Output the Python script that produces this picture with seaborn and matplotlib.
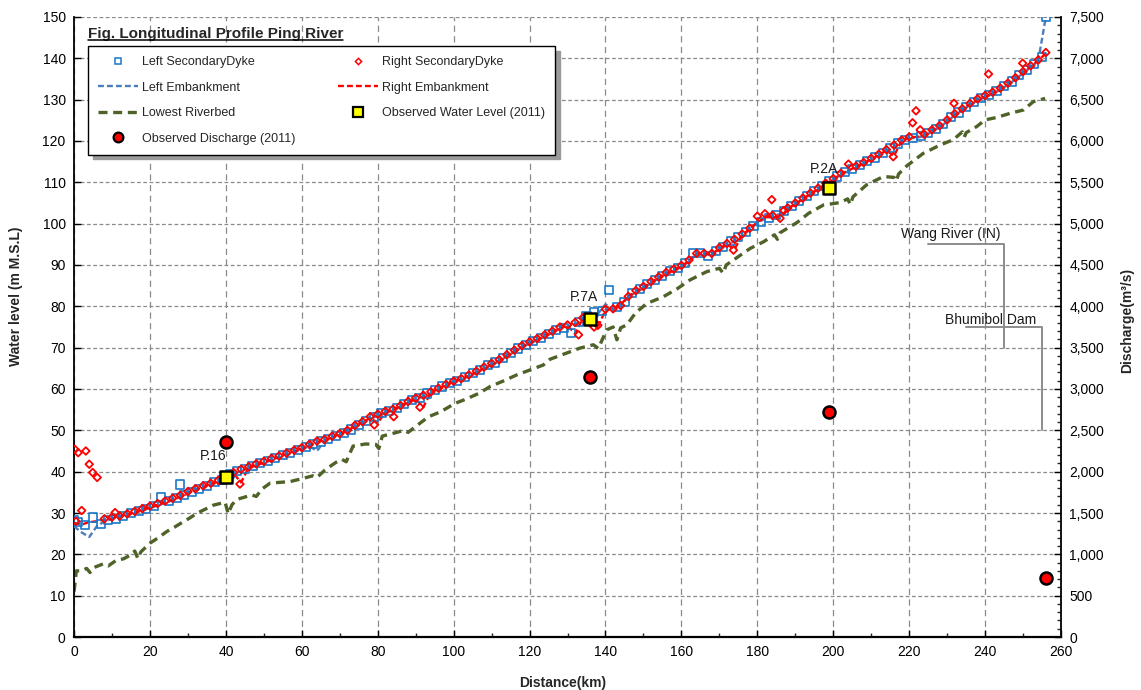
import matplotlib
matplotlib.use("Agg")
import matplotlib.pyplot as plt
import matplotlib.transforms as mtransforms
from matplotlib.lines import Line2D
from matplotlib.ticker import MultipleLocator, FuncFormatter
import seaborn as sns

# ---------------- data ----------------
# stations (km) of the embankment crest profiles
km_emb = list(range(0, 258, 2))

right_emb = [27.6, 27.2, 27.8, 28.0, 28.4, 28.7, 29.1, 29.6, 30.2, 30.8,
             31.4, 32.0, 32.6, 33.3, 34.1, 34.9, 35.6, 36.3, 37.0, 37.7,
             38.6, 39.6, 37.4, 41.0, 41.7, 42.3, 42.9, 43.6, 44.3, 45.0,
             45.6, 46.4, 47.2, 47.6, 48.3, 49.2, 49.9, 51.0, 51.9, 53.0,
             51.8, 54.4, 55.0, 55.9, 56.9, 57.6, 55.6, 59.2, 60.1, 61.0,
             61.8, 62.4, 63.2, 64.1, 65.1, 66.0, 66.9, 68.1, 69.2, 70.3,
             71.2, 72.0, 72.9, 73.8, 74.8, 75.3, 73.4, 77.0, 76.3, 75.0,
             79.1, 79.4, 80.4, 82.4, 83.6, 84.6, 85.8, 86.9, 88.0, 88.8,
             89.7, 91.0, 92.8, 92.6, 92.6, 94.0, 95.0, 93.8, 97.3, 98.7,
             100.4, 101.4, 101.9, 101.4, 103.6, 104.8, 106.0, 107.2, 108.4, 109.6,
             110.7, 112.0, 112.9, 113.7, 114.6, 115.6, 116.6, 117.7, 116.4, 120.0,
             120.8, 121.0, 121.4, 122.5, 123.5, 124.9, 126.4, 127.6, 128.9, 130.0,
             130.8, 131.6, 132.6, 133.8, 135.1, 136.6, 138.0, 139.4, 141.2]

left_emb = [26.8, 25.3, 24.2, 26.8, 28.0, 28.5, 28.9, 29.5, 30.0, 30.6,
            31.2, 31.8, 32.4, 33.1, 33.9, 34.7, 35.4, 36.1, 36.8, 37.5,
            38.5, 39.4, 40.2, 40.8, 41.5, 42.1, 42.7, 43.4, 44.1, 44.8,
            45.4, 46.2, 45.0, 47.4, 48.1, 48.9, 49.7, 50.8, 51.7, 52.8,
            53.5, 54.2, 54.8, 55.7, 56.7, 57.4, 58.3, 59.0, 59.9, 60.8,
            61.6, 62.2, 63.0, 63.9, 64.9, 65.8, 66.7, 67.9, 69.0, 70.1,
            71.0, 71.8, 72.7, 73.6, 74.6, 75.1, 75.7, 76.8, 77.3, 78.2,
            80.5, 79.2, 80.2, 82.2, 83.4, 84.4, 85.6, 86.7, 87.8, 88.6,
            89.5, 90.8, 92.6, 92.4, 92.4, 93.8, 94.8, 95.8, 97.1, 98.5,
            100.2, 101.2, 101.7, 102.4, 103.4, 104.6, 105.8, 107.0, 108.2, 109.4,
            110.5, 111.8, 112.7, 113.5, 114.4, 115.4, 116.4, 117.5, 118.6, 119.8,
            120.6, 120.8, 121.2, 122.3, 123.3, 124.7, 126.2, 127.4, 128.7, 129.8,
            130.6, 131.4, 132.4, 133.6, 134.9, 136.4, 137.8, 139.4, 150.0]

# (km, elevation) of left secondary dyke
left_dyke = [(0, 28.2), (1, 27.9), (3, 27.0), (5, 28.9), (7, 27.3), (9, 28.3), (11, 28.6),
             (13, 29.2), (15, 30.0), (17, 30.5), (19, 31.0), (21, 31.6), (23, 33.8), (25, 32.8),
             (27, 33.6), (28, 36.9), (29, 34.4), (31, 35.1), (33, 35.8), (35, 36.6), (37, 37.4),
             (39, 38.0), (41, 39.4), (43, 40.1), (45, 40.6), (47, 41.4), (49, 42.1), (51, 42.6),
             (53, 43.2), (55, 44.0), (57, 44.6), (59, 45.3), (61, 46.0), (63, 46.6), (65, 47.3),
             (67, 47.9), (69, 48.6), (71, 49.3), (73, 50.2), (75, 51.3), (77, 52.3), (79, 53.2),
             (81, 54.2), (83, 54.6), (85, 55.4), (87, 56.4), (89, 57.3), (91, 57.9), (93, 58.9),
             (95, 59.7), (97, 60.6), (99, 61.4), (101, 61.9), (103, 62.8), (105, 63.8), (107, 64.6),
             (109, 65.7), (111, 66.4), (113, 67.5), (115, 68.6), (117, 69.8), (119, 70.6), (121, 71.7),
             (123, 72.3), (125, 73.3), (127, 74.2), (129, 74.8), (131, 73.6), (133, 76.2), (135, 77.6),
             (137, 78.6), (139, 78.8), (141, 84.0), (143, 79.8), (145, 81.0), (147, 83.2), (149, 84.2),
             (151, 85.4), (153, 86.4), (155, 87.4), (157, 88.5), (159, 89.3), (161, 90.4), (163, 92.9),
             (165, 92.8), (167, 92.2), (169, 93.4), (171, 94.3), (173, 95.8), (175, 96.7), (177, 98.0),
             (179, 99.4), (181, 100.5), (183, 101.4), (185, 102.2), (187, 103.1), (189, 104.2),
             (191, 105.4), (193, 106.6), (195, 107.8), (197, 109.0), (199, 110.2), (201, 111.4),
             (203, 112.6), (205, 113.2), (207, 114.1), (209, 115.1), (211, 116.0), (213, 117.1),
             (215, 118.2), (217, 119.4), (219, 120.3), (221, 120.8), (223, 121.2), (225, 122.0),
             (227, 123.0), (229, 124.2), (231, 125.7), (233, 126.9), (235, 128.2), (237, 129.4),
             (239, 130.4), (241, 131.2), (243, 132.1), (245, 133.2), (247, 134.4), (249, 135.9),
             (251, 137.2), (253, 138.7), (255, 140.3), (256, 150.0)]

# (km, elevation) of right secondary dyke
right_dyke = [(0.2, 45.4), (0.5, 28.0), (1.1, 44.6), (2.0, 30.6), (3.1, 45.0), (4.0, 41.8),
              (4.9, 39.8), (6.1, 38.6), (8, 28.6), (10, 29.0), (10.8, 30.1), (12, 29.3),
              (14, 29.8), (16, 30.4), (18, 31.1), (20, 31.7), (22, 32.3), (24, 32.9), (26, 33.6),
              (28, 34.3), (30, 35.2), (32, 35.9), (34, 36.6), (36, 37.2), (38, 37.9), (40, 38.8),
              (42, 39.8), (43.7, 37.0), (44, 40.6), (46, 41.2), (48, 41.9), (50, 42.5), (52, 43.2),
              (54, 43.8), (56, 44.5), (58, 45.2), (60, 45.8), (62, 46.6), (64, 47.4), (66, 47.8),
              (68, 48.6), (70, 49.2), (72, 50.0), (74, 51.2), (76, 52.1), (78, 53.3), (79.1, 51.3),
              (80, 53.9), (82, 54.6), (84, 55.1), (84.2, 53.3), (86, 56.0), (88, 57.0), (90, 57.8),
              (91.1, 55.6), (92, 58.5), (94, 59.3), (96, 60.2), (98, 61.1), (100, 61.9), (102, 62.5),
              (104, 63.4), (106, 64.3), (108, 65.3), (110, 66.2), (112, 67.1), (114, 68.3),
              (116, 69.4), (118, 70.5), (120, 71.4), (122, 72.2), (124, 73.1), (126, 74.0),
              (128, 75.0), (130, 75.5), (132, 76.1), (132.9, 73.1), (134, 77.2), (136, 76.0),
              (137, 75.0), (138, 75.4), (140, 79.3), (142, 79.4), (144, 80.2), (146, 82.4),
              (148, 83.8), (150, 84.8), (152, 86.0), (154, 87.1), (156, 88.2), (158, 89.0),
              (160, 89.9), (162, 91.2), (164, 92.8), (166, 92.8), (168, 92.8), (170, 94.2),
              (172, 95.2), (173.7, 93.6), (174, 96.2), (176, 97.5), (178, 98.9), (180, 101.8),
              (182, 102.4), (183.8, 105.8), (184, 102.0), (186, 101.3), (187, 103.2), (188, 103.8),
              (190, 105.0), (192, 106.2), (194, 107.4), (196, 108.6), (198, 109.8), (200, 110.9),
              (202, 112.2), (204, 114.4), (206, 113.9), (208, 114.8), (210, 115.8), (212, 116.8),
              (214, 117.9), (215.8, 116.2), (216, 119.0), (218, 120.2), (220, 121.0), (220.9, 124.4),
              (221.8, 127.3), (222.9, 122.7), (224, 121.6), (226, 122.7), (228, 123.7), (230, 125.1),
              (231.8, 129.1), (232, 126.6), (234, 127.8), (236, 129.1), (238, 130.2), (240, 131.0),
              (240.9, 136.2), (242, 131.8), (244, 132.8), (246, 134.0), (248, 135.3), (249.9, 138.8),
              (250, 136.8), (252, 138.2), (254, 139.6), (256, 141.4)]

# (km, elevation) of lowest riverbed
riverbed = [(0, 11.0), (0.6, 16.0), (2.0, 16.0), (3.3, 16.6), (4.2, 15.6), (5.2, 16.8), (7.7, 17.7),
            (9.0, 17.2), (11.2, 18.6), (13.0, 18.9), (14.8, 19.8), (16.0, 20.8), (16.8, 19.0),
            (17.6, 20.6), (20.0, 22.7), (22.0, 23.9), (24.4, 25.5), (26.5, 26.6), (28.8, 27.9),
            (30.5, 28.8), (32.3, 29.9), (34.5, 30.9), (36.7, 31.9), (38.5, 32.3), (39.8, 32.6),
            (40.6, 29.8), (41.6, 32.0), (42.9, 33.3), (44.8, 33.8), (46.8, 34.4), (48.0, 34.0),
            (49.5, 35.8), (51.6, 37.2), (54.0, 37.4), (56.9, 37.6), (60.0, 38.3), (62.9, 39.0),
            (64.0, 38.6), (66.1, 40.4), (68.9, 42.2), (70.5, 43.0), (71.7, 42.4), (73.5, 46.2),
            (76.8, 46.7), (79.5, 46.6), (80.3, 45.6), (81.2, 48.6), (84.6, 49.4), (87.0, 50.0),
            (88.0, 49.5), (91.1, 51.7), (93.4, 53.3), (96.6, 54.5), (100.3, 56.5), (103.1, 57.5),
            (106.8, 59.0), (109.6, 60.6), (113.0, 61.9), (116.6, 63.4), (120.1, 64.6), (123.6, 65.8),
            (125.4, 67.2), (128.9, 68.4), (133.3, 69.9), (136.8, 70.7), (138.1, 69.8), (140.3, 74.3),
            (142.0, 75.0), (143.0, 71.9), (144.0, 74.8), (145.6, 75.5), (148.0, 78.5), (150.9, 80.7),
            (155.2, 82.3), (158.8, 84.2), (162.3, 86.4), (166.7, 88.4), (170.0, 89.2), (171.0, 88.0),
            (171.8, 90.0), (173.7, 91.2), (178.1, 94.0), (181.6, 95.6), (184.5, 97.3), (185.3, 96.2),
            (186.0, 97.8), (190.5, 100.3), (193.5, 102.5), (197.4, 104.5), (201.8, 105.1),
            (203.8, 106.0), (204.5, 104.6), (205.2, 106.5), (208.8, 109.4), (213.2, 111.4),
            (216.0, 111.2), (216.6, 110.3), (217.2, 112.0), (219.4, 114.0), (223.7, 117.0),
            (228.1, 119.0), (231.6, 120.3), (234.0, 122.2), (234.5, 120.9), (235.0, 122.0),
            (237.8, 123.5), (240.0, 125.1), (243.1, 125.7), (246.6, 126.7), (250.1, 127.5),
            (252.7, 129.5), (255.8, 130.3)]

# observed 2011 values
obs_km = [40, 136, 199]
obs_wl = [38.8, 76.9, 108.7]
obs_names = ["P.16", "P.7A", "P.2A"]
q_km = [40, 136, 199, 256]
q_val = [2360, 3140, 2725, 710]

x_ticks = list(range(0, 261, 20))
y_ticks = list(range(0, 151, 10))
q_ticks = list(range(0, 7501, 500))

# annotation leader lines (km, elevation)
wang_line = [(225, 95), (245, 95), (245, 70)]
bhumibol_line = [(235, 75), (255, 75), (255, 50)]

# ---------------- style ----------------
sns.set_theme(style="white")
plt.rcParams['font.family'] = ['Liberation Sans', 'DejaVu Sans']
plt.rcParams['axes.edgecolor'] = 'black'

C_LD = '#1a78c8'
C_LE = '#4a7ebb'
C_R = '#ff0000'
C_RB = '#4f6228'

fig = plt.figure(figsize=(11.41, 6.90), dpi=100, facecolor='white')
ax = fig.add_axes([0.0649, 0.0768, 0.865, 0.8986])
ax2 = ax.twinx()

ld_km, ld_wl = zip(*left_dyke)
rd_km, rd_wl = zip(*right_dyke)
rb_km, rb_wl = zip(*riverbed)

emb_ls = (0, (2.5, 1.3))
rb_ls = (0, (2.7, 1.7))

sns.lineplot(x=list(rb_km), y=list(rb_wl), ax=ax, color=C_RB, lw=2.4, linestyle=rb_ls,
             sort=False, estimator=None, legend=False, zorder=2)
sns.lineplot(x=km_emb, y=left_emb, ax=ax, color=C_LE, lw=1.7, linestyle=emb_ls,
             sort=False, estimator=None, legend=False, zorder=3)
sns.lineplot(x=km_emb, y=right_emb, ax=ax, color=C_R, lw=1.7, linestyle=emb_ls,
             sort=False, estimator=None, legend=False, zorder=3)
sns.scatterplot(x=list(ld_km), y=list(ld_wl), ax=ax, marker='s', s=34, facecolor='none',
                edgecolor=C_LD, linewidth=1.2, legend=False, zorder=4)
sns.scatterplot(x=list(rd_km), y=list(rd_wl), ax=ax, marker='D', s=15, facecolor='none',
                edgecolor=C_R, linewidth=1.3, legend=False, zorder=5)
sns.scatterplot(x=obs_km, y=obs_wl, ax=ax, marker='s', s=80, color='#ffff00',
                edgecolor='black', linewidth=1.8, legend=False, zorder=7)
sns.scatterplot(x=q_km, y=q_val, ax=ax2, marker='o', s=75, color='#ff0000',
                edgecolor='black', linewidth=1.8, legend=False, zorder=7)

# leader lines and labels
for pts in (wang_line, bhumibol_line):
    xs, ys = zip(*pts)
    ax.plot(xs, ys, color='#8c8c8c', lw=1.4, zorder=3)
ax.text(230.9, 96.5, "Wang River (IN)", fontsize=10, ha='center', va='baseline', color='#1a1a1a')
ax.text(241.4, 75.7, "Bhumibol Dam", fontsize=10, ha='center', va='baseline', color='#1a1a1a')
lab_pos = [(36.7, 42.8), (134.3, 81.3), (197.7, 112.2)]
for (tx, ty), name in zip(lab_pos, obs_names):
    ax.text(tx, ty, name, fontsize=10, ha='center', va='baseline', color='#1a1a1a', zorder=8)

# axes
ax.set_xlim(0, 260)
ax.set_ylim(0, 150)
ax2.set_ylim(0, 7500)
ax.set_xticks(x_ticks)
ax.set_yticks(y_ticks)
ax2.set_yticks(q_ticks)
ax.xaxis.set_minor_locator(MultipleLocator(10))
ax2.yaxis.set_minor_locator(MultipleLocator(100))
ax2.yaxis.set_major_formatter(FuncFormatter(lambda v, p: f"{v:,.0f}"))

ax.yaxis.grid(True, which='major', color='#8a8a8a', lw=0.9, linestyle=(0, (3, 2)))
ax.xaxis.grid(True, which='major', color='#8a8a8a', lw=0.9, linestyle=(0, (5, 3.5)))
ax.set_axisbelow(True)
ax2.grid(False)

for a in (ax, ax2):
    a.spines['top'].set_visible(False)
ax2.spines['left'].set_visible(False)
ax2.spines['bottom'].set_visible(False)
ax.spines['right'].set_visible(False)
ax.spines['left'].set_linewidth(1.3)
ax.spines['bottom'].set_linewidth(1.6)
ax2.spines['right'].set_linewidth(1.3)

ax.tick_params(axis='both', which='major', direction='in', length=5, width=1, labelsize=10,
               colors='black', bottom=True, left=True, pad=6)
ax.tick_params(axis='x', which='minor', direction='in', length=3, width=1, bottom=True)
ax2.tick_params(axis='y', which='major', direction='in', length=5, width=1, labelsize=10,
                colors='black', right=True, pad=6)
ax2.tick_params(axis='y', which='minor', direction='in', length=3, width=1, right=True)

ax.set_xlabel("Distance(km)", fontsize=10, fontweight='bold')
ax.set_ylabel("Water level (m M.S.L)", fontsize=10, fontweight='bold')
ax2.set_ylabel("Discharge(m³/s)", fontsize=10, fontweight='bold')
ax.xaxis.set_label_coords(0.495, -0.063)
ax.yaxis.set_label_coords(-0.052, 0.55)
ax2.yaxis.set_label_coords(1.06, 0.51)

# legend
handles = [
    Line2D([], [], ls='none', marker='s', ms=4.6, mfc='none', mec=C_LD, mew=1.1),
    Line2D([], [], color=C_LE, lw=1.7, ls=emb_ls),
    Line2D([], [], color=C_RB, lw=2.4, ls=rb_ls),
    Line2D([], [], ls='none', marker='o', ms=7, mfc='#ff0000', mec='black', mew=1.6),
    Line2D([], [], ls='none', marker='D', ms=3.2, mfc='none', mec=C_R, mew=1.1),
    Line2D([], [], color=C_R, lw=1.7, ls=emb_ls),
    Line2D([], [], ls='none', marker='s', ms=7, mfc='#ffff00', mec='black', mew=1.6),
]
labels = ["Left SecondaryDyke", "Left Embankment", "Lowest Riverbed", "Observed Discharge (2011)",
          "Right SecondaryDyke", "Right Embankment", "Observed Water Level (2011)"]
leg = ax2.legend(handles, labels, ncol=2, loc='upper left', bbox_to_anchor=(0.0142, 0.953),
                 frameon=True, fancybox=False, edgecolor='black', framealpha=1,
                 shadow={'ox': 3.5, 'oy': -3.5, 'facecolor': '#9a9a9a', 'edgecolor': '#9a9a9a', 'alpha': 1},
                 fontsize=9, handlelength=3.2, columnspacing=3.35, labelspacing=1.08,
                 borderpad=0.8, handletextpad=0.35, numpoints=1, borderaxespad=0)
leg.get_frame().set_linewidth(1.0)
leg.set_zorder(20)

# title with underline
title_y = 0.9666
title = ax2.text(0.0142, title_y, "Fig. Longitudinal Profile Ping River", transform=ax2.transAxes,
                 fontsize=11, fontweight='bold', ha='left', va='baseline', zorder=21)
fig.canvas.draw()
bb = title.get_window_extent()
yb = ax2.transAxes.transform((0, title_y))[1] - 2
fig.add_artist(Line2D([bb.x0, bb.x1], [yb, yb], transform=mtransforms.IdentityTransform(),
                      color='black', lw=1.1))

fig.savefig("out.png", dpi=100, facecolor='white')
